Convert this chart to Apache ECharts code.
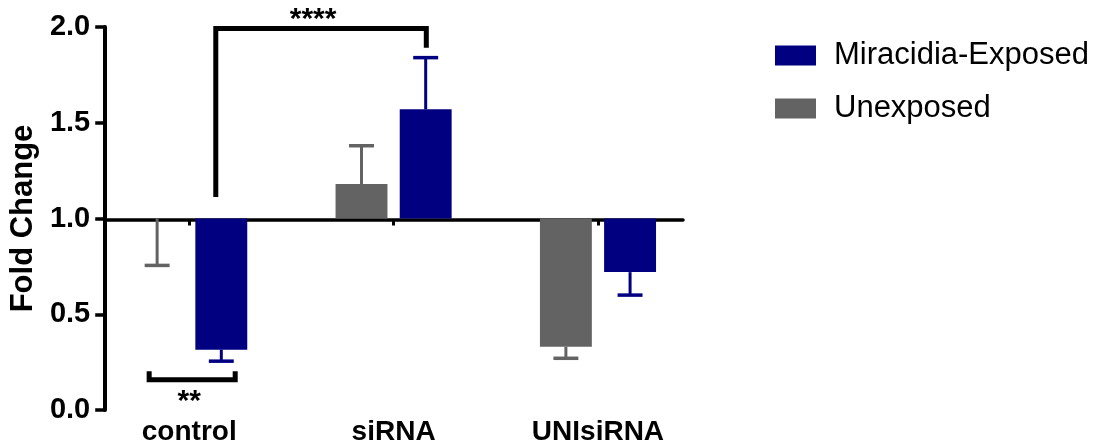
<!DOCTYPE html>
<html>
<head>
<meta charset="utf-8">
<script src="https://cdn.jsdelivr.net/npm/echarts@6/dist/echarts.min.js"></script>
<style>
html,body{margin:0;padding:0;background:#fff;}
#chart{width:1096px;height:446px;}
</style>
</head>
<body>
<div id="chart"></div>
<script>
// ---- data ----
const categories = ['control', 'siRNA', 'UNIsiRNA'];
const unexposedValues = [1.0, 1.18, 0.33];
const unexposedErrEnd = [0.755, 1.38, 0.27];
const exposedValues = [0.315, 1.57, 0.72];
const exposedErrEnd = [0.255, 1.84, 0.60];
const yTicks = [0, 0.5, 1.0, 1.5, 2.0];
// significance brackets: [x1, x2, yLine, yEnd1, yEnd2]
const bracketLines = [
  [0.13, 1.16, 1.992, 1.112, 1.891],
  [-0.196, 0.225, 0.158, 0.203, 0.203]
];
// significance labels: [text, x, y]
const bracketLabels = [
  ['****', 0.606, 2.04],
  ['**', 0.0, 0.045]
];

const FONT = '"Liberation Sans", Arial, Helvetica, sans-serif';
const NAVY = '#000080';
const GRAY = '#636363';

const chart = echarts.init(document.getElementById('chart'), null, {renderer: 'canvas'});

function barRender(offsetFrac, color) {
  return function (params, api) {
    const i = api.value(0), v = api.value(1), e = api.value(2);
    const band = api.size([1, 0])[0];
    const base = api.coord([i, 1]);
    const cx = base[0] + offsetFrac * band;
    const y1 = base[1];
    const yv = api.coord([i, v])[1];
    const ye = api.coord([i, e])[1];
    const w = 0.254 * band;
    const cap = 0.122 * band;
    return {
      type: 'group',
      children: [
        {type: 'rect', shape: {x: cx - w / 2, y: Math.min(y1, yv), width: w, height: Math.abs(yv - y1)},
         style: {fill: color}},
        {type: 'line', shape: {x1: cx, y1: yv, x2: cx, y2: ye}, style: {stroke: color, lineWidth: 3}},
        {type: 'line', shape: {x1: cx - cap / 2, y1: ye, x2: cx + cap / 2, y2: ye}, style: {stroke: color, lineWidth: 3.5}}
      ]
    };
  };
}

function bracketRender(params, api) {
  const x1 = api.value(0), x2 = api.value(1), yl = api.value(2), ye1 = api.value(3), ye2 = api.value(4);
  const p1 = api.coord([x1, ye1]);
  const p2 = api.coord([x1, yl]);
  const p3 = api.coord([x2, yl]);
  const p4 = api.coord([x2, ye2]);
  return {
    type: 'polyline',
    shape: {points: [p1, p2, p3, p4]},
    style: {stroke: '#000', lineWidth: 5, fill: null, lineJoin: 'miter'}
  };
}

function labelRender(params, api) {
  const p = api.coord([api.value(1), api.value(2)]);
  return {
    type: 'text',
    x: p[0], y: p[1],
    style: {text: bracketLabels[params.dataIndex][0], fill: '#000', font: 'bold 30px ' + FONT,
            textAlign: 'center', textVerticalAlign: 'middle'}
  };
}

const gridTop = 27, gridBottom = 34;
const gridHeight = 446 - gridTop - gridBottom;

const option = {
  animation: false,
  backgroundColor: '#fff',
  grid: {left: 105, right: 413, top: gridTop, bottom: gridBottom, containLabel: false},
  legend: {
    orient: 'vertical', left: 770, top: 35, itemWidth: 41, itemHeight: 20, itemGap: 22, icon: 'rect',
    data: ['Miracidia-Exposed', 'Unexposed'],
    textStyle: {fontSize: 31, fontFamily: FONT, color: '#000', padding: [0, 0, 0, 13]}
  },
  xAxis: [
    {
      type: 'value', position: 'top', min: -0.411, max: 2.416,
      offset: -gridHeight / 2,
      axisLine: {show: true, onZero: false, lineStyle: {color: '#000', width: 3.5}},
      axisTick: {show: true, inside: true, length: 6, customValues: [0, 1, 2], lineStyle: {color: '#000', width: 3}},
      axisLabel: {show: false},
      splitLine: {show: false}
    },
    {
      type: 'value', position: 'bottom', min: -0.411, max: 2.416,
      axisLine: {show: false, onZero: false},
      axisTick: {show: false},
      axisLabel: {show: true, customValues: [0, 1, 2], margin: 8,
                  formatter: v => categories[Math.round(v)],
                  fontSize: 28, fontWeight: 'bold', fontFamily: FONT, color: '#000'},
      splitLine: {show: false}
    }
  ],
  yAxis: {
    type: 'value', min: 0, max: 2, interval: 0.5,
    name: 'Fold Change', nameLocation: 'middle', nameRotate: 90, nameGap: 66,
    nameTextStyle: {fontSize: 31, fontWeight: 'bold', fontFamily: FONT, color: '#000'},
    axisLine: {show: true, onZero: false, lineStyle: {color: '#000', width: 4}},
    axisTick: {show: true, length: 10, lineStyle: {color: '#000', width: 3.5}},
    axisLabel: {margin: 15, fontSize: 29, fontWeight: 'bold', fontFamily: FONT, color: '#000',
                customValues: yTicks, formatter: v => v.toFixed(1)},
    splitLine: {show: false}
  },
  series: [
    {
      name: 'Unexposed', type: 'custom', xAxisIndex: 0, itemStyle: {color: GRAY},
      renderItem: barRender(-0.157, GRAY),
      data: categories.map((c, i) => [i, unexposedValues[i], unexposedErrEnd[i]])
    },
    {
      name: 'Miracidia-Exposed', type: 'custom', xAxisIndex: 0, itemStyle: {color: NAVY},
      renderItem: barRender(0.157, NAVY),
      data: categories.map((c, i) => [i, exposedValues[i], exposedErrEnd[i]])
    },
    {
      name: 'brackets', type: 'custom', xAxisIndex: 0, z: 5,
      renderItem: bracketRender,
      data: bracketLines
    },
    {
      name: 'sig', type: 'custom', xAxisIndex: 0, z: 5,
      renderItem: labelRender,
      data: bracketLabels.map(b => [0, b[1], b[2]])
    }
  ]
};
chart.setOption(option);
</script>
</body>
</html>
